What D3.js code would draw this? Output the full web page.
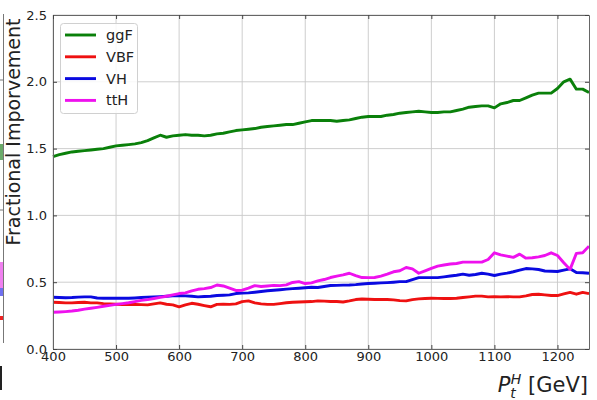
<!DOCTYPE html>
<html><head><meta charset="utf-8">
<script src="https://cdn.jsdelivr.net/npm/d3@7"></script>
<style>body{margin:0;background:#fff}svg{display:block;font-family:"DejaVu Sans",sans-serif}</style>
</head><body><svg id="c" width="597" height="400"></svg>
<script>
const ptH = d3.range(400, 1251, 10);
const ggF = [1.44,1.455,1.465,1.475,1.48,1.485,1.49,1.495,1.50,1.51,1.52,1.525,1.53,1.535,1.545,1.56,1.58,1.60,1.585,1.595,1.60,1.605,1.60,1.60,1.595,1.60,1.61,1.615,1.625,1.635,1.64,1.645,1.65,1.66,1.665,1.67,1.675,1.68,1.68,1.69,1.70,1.71,1.71,1.71,1.71,1.705,1.71,1.715,1.725,1.735,1.74,1.74,1.74,1.75,1.755,1.765,1.77,1.775,1.78,1.775,1.77,1.77,1.775,1.775,1.785,1.795,1.81,1.815,1.82,1.82,1.805,1.835,1.845,1.86,1.86,1.88,1.90,1.915,1.915,1.915,1.95,2.00,2.02,1.945,1.945,1.92];
const VBF = [.35,.348,.345,.345,.348,.35,.345,.345,.34,.338,.335,.333,.335,.333,.332,.33,.338,.345,.335,.33,.316,.33,.342,.335,.325,.316,.334,.336,.334,.338,.355,.36,.345,.338,.334,.334,.34,.346,.35,.352,.354,.355,.36,.358,.356,.355,.352,.36,.37,.374,.372,.37,.37,.37,.368,.362,.36,.37,.375,.378,.38,.379,.378,.378,.38,.385,.39,.396,.396,.39,.392,.39,.392,.39,.39,.398,.408,.41,.405,.40,.40,.412,.424,.41,.424,.415];
const VH = [.387,.386,.384,.385,.388,.39,.39,.382,.38,.38,.38,.38,.38,.382,.385,.388,.39,.392,.395,.398,.40,.398,.395,.39,.393,.395,.40,.402,.405,.415,.418,.42,.425,.43,.436,.44,.444,.448,.452,.455,.458,.462,.46,.468,.475,.476,.478,.479,.482,.487,.49,.492,.495,.497,.50,.504,.504,.52,.534,.534,.534,.534,.54,.546,.552,.56,.552,.558,.567,.56,.55,.56,.568,.578,.59,.602,.60,.595,.584,.582,.58,.59,.60,.572,.571,.567];
const ttH = [.275,.277,.28,.284,.29,.298,.305,.312,.32,.327,.334,.34,.346,.355,.364,.37,.378,.386,.395,.405,.415,.42,.435,.447,.452,.46,.479,.472,.455,.438,.44,.455,.474,.468,.472,.476,.474,.48,.498,.504,.49,.495,.51,.52,.535,.546,.555,.567,.55,.535,.534,.535,.545,.56,.578,.586,.61,.60,.567,.585,.604,.62,.629,.636,.64,.65,.65,.65,.65,.67,.72,.705,.695,.686,.71,.68,.683,.69,.70,.72,.70,.646,.596,.716,.72,.77];
const seriesNames = ["ggF","VBF","VH","ttH"];
const seriesColors = ["#0a800a","#ee1111","#0a0ae0","#ee11ee"];
const seriesValues = [ggF, VBF, VH, ttH];
const xTicks = [400,500,600,700,800,900,1000,1100,1200];
const yTicks = [0,0.5,1.0,1.5,2.0,2.5];

const svg = d3.select("#c");
const L=53, R=589, T=15, B=349;
const x = d3.scaleLinear().domain([400,1250]).range([L,R]);
const y = d3.scaleLinear().domain([0,2.5]).range([B,T]);

// remnant of neighbouring panel at left edge
const rem = svg.append("g");
rem.append("line").attr("x1",3.5).attr("x2",3.5).attr("y1",14).attr("y2",343).attr("stroke","#777").attr("stroke-width",1);
[80,210].forEach(v=>rem.append("line").attr("x1",0).attr("x2",3.5).attr("y1",v).attr("y2",v).attr("stroke","#777"));
rem.append("rect").attr("x",0).attr("y",144).attr("width",3).attr("height",16).attr("fill","#6aaa6a");
rem.append("rect").attr("x",0).attr("y",262).attr("width",3).attr("height",34).attr("fill","#f080f0");
rem.append("rect").attr("x",0).attr("y",288).attr("width",3).attr("height",8).attr("fill","#7070f0");
rem.append("rect").attr("x",0).attr("y",316).attr("width",3).attr("height",4).attr("fill","#ee2222");
rem.append("rect").attr("x",0).attr("y",366).attr("width",2).attr("height",24).attr("fill","#222");

// grid
const g = svg.append("g");
g.selectAll(".gx").data(xTicks).join("line").attr("x1",d=>x(d)).attr("x2",d=>x(d)).attr("y1",T).attr("y2",B).attr("stroke","#c8c8c8").attr("stroke-width",0.9);
g.selectAll(".gy").data(yTicks).join("line").attr("x1",L).attr("x2",R).attr("y1",d=>y(d)).attr("y2",d=>y(d)).attr("stroke","#c8c8c8").attr("stroke-width",0.9);

// lines
const line = d3.line().x((d,i)=>x(ptH[i])).y(d=>y(d));
seriesValues.forEach((vals,k)=>{
  svg.append("path").datum(vals).attr("d",line).attr("fill","none").attr("stroke",seriesColors[k]).attr("stroke-width",2.9).attr("stroke-linejoin","round");
});

// axes (ticks inward)
const axB = d3.axisBottom(x).tickValues(xTicks).tickSizeInner(-4).tickSizeOuter(0).tickPadding(3).tickFormat(d3.format("d"));
const axL = d3.axisLeft(y).tickValues(yTicks).tickSizeInner(-4).tickSizeOuter(0).tickPadding(6).tickFormat(d3.format(".1f"));
const axT = d3.axisTop(x).tickValues(xTicks).tickSizeInner(-4).tickSizeOuter(0).tickFormat("");
const axR = d3.axisRight(y).tickValues(yTicks).tickSizeInner(-4).tickSizeOuter(0).tickFormat("");
function style(sel){sel.selectAll("path").attr("stroke","#666");sel.selectAll("line").attr("stroke","#444");sel.selectAll("text").attr("fill","#222").style("font-size","13px").style("font-family","DejaVu Sans");}
svg.append("g").attr("transform",`translate(0,${B})`).call(axB).call(style);
svg.append("g").attr("transform",`translate(${L},0)`).call(axL).call(style);
svg.append("g").attr("transform",`translate(0,${T})`).call(axT).call(style);
svg.append("g").attr("transform",`translate(${R},0)`).call(axR).call(style);

// axis titles
svg.append("text").attr("transform","translate(20,132) rotate(-90)").attr("text-anchor","middle").style("font-size","19px").attr("fill","#222").text("Fractional Imporvement");
const xt = svg.append("text").attr("x",588).attr("y",392).attr("text-anchor","end").style("font-size","21px").attr("fill","#222");
xt.append("tspan").style("font-style","italic").text("P");
xt.append("tspan").attr("dy",6).style("font-size","14px").style("font-style","italic").text("t");
xt.append("tspan").attr("dx",-5).attr("dy",-14).style("font-size","14px").style("font-style","italic").text("H");
xt.append("tspan").attr("dy",8).text(" [GeV]");

// legend
const lg = svg.append("g");
lg.append("rect").attr("x",60.5).attr("y",23.5).attr("width",77).attr("height",90).attr("rx",3).attr("fill","#fff").attr("fill-opacity",0.85).attr("stroke","#d0d0d0");
seriesNames.forEach((n,k)=>{
  const yy = 35 + k*21.8;
  lg.append("line").attr("x1",65).attr("x2",96).attr("y1",yy).attr("y2",yy).attr("stroke",seriesColors[k]).attr("stroke-width",2.9);
  lg.append("text").attr("x",106).attr("y",yy+5).style("font-size","14.5px").attr("fill","#222").text(n);
});
</script></body></html>
